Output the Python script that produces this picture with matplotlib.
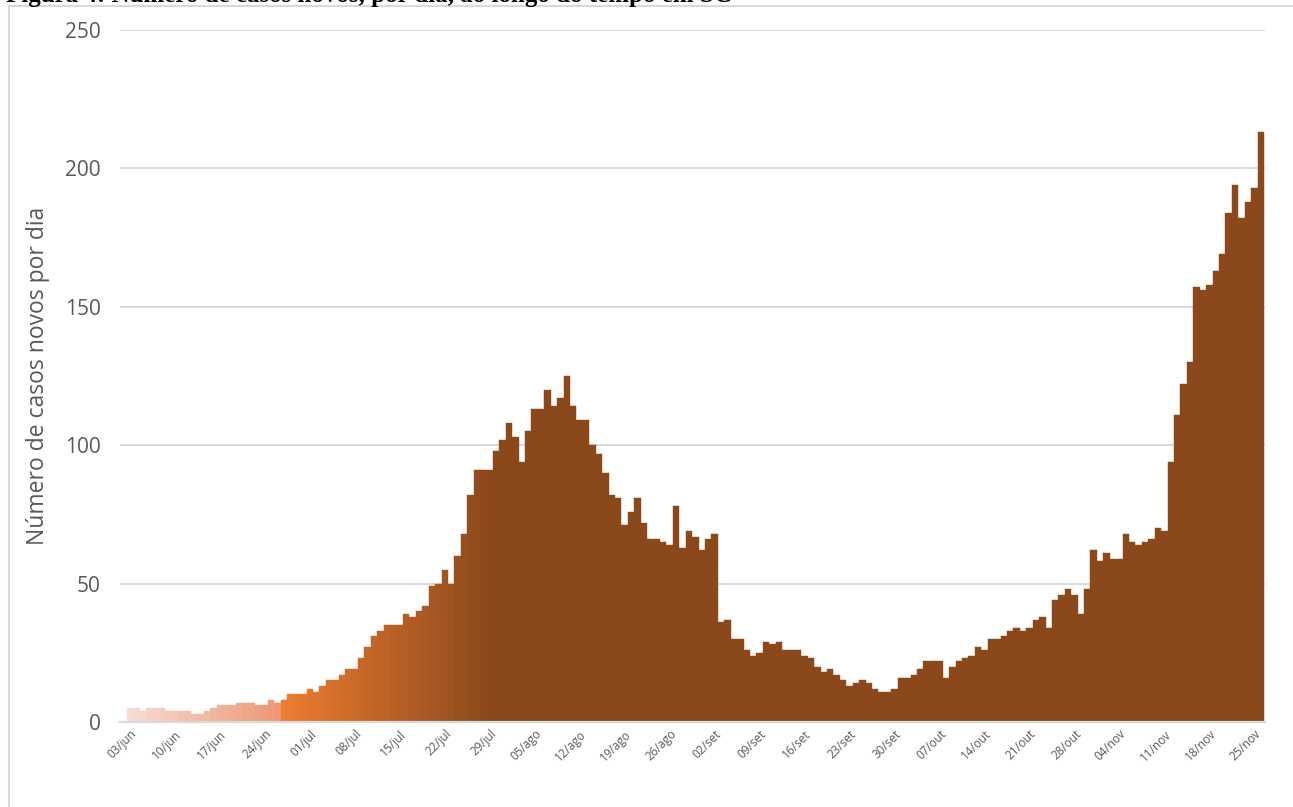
import matplotlib
matplotlib.use("Agg")
import matplotlib.pyplot as plt
import numpy as np

# ---- data ----
cases = [5, 5, 4, 5, 5, 5, 4, 4, 4, 4, 3, 3, 4, 5, 6, 6, 6, 7, 7, 7,
         6, 6, 8, 7, 8, 10, 10, 10, 12, 11, 13, 15, 15, 17, 19, 19, 23, 27, 31, 33,
         35, 35, 35, 39, 38, 40, 42, 49, 50, 55, 50, 60, 68, 82, 91, 91, 91, 98, 102, 108,
         103, 94, 105, 113, 113, 120, 114, 117, 125, 114, 109, 109, 100, 97, 90, 82, 81, 71, 76, 81,
         72, 66, 66, 65, 64, 78, 63, 69, 67, 62, 66, 68, 36, 37, 30, 30, 26, 24, 25, 29,
         28, 29, 26, 26, 26, 24, 23, 20, 18, 19, 17, 15, 13, 14, 15, 14, 12, 11, 11, 12,
         16, 16, 17, 19, 22, 22, 22, 16, 20, 22, 23, 24, 27, 26, 30, 30, 31, 33, 34, 33,
         34, 37, 38, 34, 44, 46, 48, 46, 39, 48, 62, 58, 61, 59, 59, 68, 65, 64, 65, 66,
         70, 69, 94, 111, 122, 130, 157, 156, 158, 163, 169, 184, 194, 182, 188, 193, 213]

tick_labels = ['03/jun', '10/jun', '17/jun', '24/jun', '01/jul', '08/jul', '15/jul',
               '22/jul', '29/jul', '05/ago', '12/ago', '19/ago', '26/ago', '02/set',
               '09/set', '16/set', '23/set', '30/set', '07/out', '14/out', '21/out',
               '28/out', '04/nov', '11/nov', '18/nov', '25/nov']

y_ticks = [0, 50, 100, 150, 200, 250]
y_label = 'Número de casos novos por dia'
title = 'Figura 4: Número de casos novos, por dia, ao longo do tempo em SC'

# ---- colours (gradient style) ----
def lerp(c1, c2, t):
    return tuple((a + (b - a) * t) / 255 for a, b in zip(c1, c2))

n = len(cases)
pale0 = (248, 220, 212)
pale1 = (236, 152, 118)
orange = (237, 125, 49)
brown = (139, 72, 27)
colors = []
for i in range(n):
    if i <= 23:
        colors.append(lerp(pale0, pale1, i / 23))
    elif i <= 56:
        colors.append(lerp(orange, brown, (i - 24) / 32))
    else:
        colors.append(lerp(brown, brown, 0))

W, H = 1293, 807
fig = plt.figure(figsize=(W / 100, H / 100), dpi=100)
ax = fig.add_axes([120 / W, (H - 722) / H, 1145 / W, 692 / H])

x = np.arange(n)
ax.bar(x, cases, width=1.0, color=colors, edgecolor=colors, linewidth=0.3, zorder=2)

ax.set_ylim(0, 250)
ax.set_xlim(-1.54, n - 0.5 + 0.16)
ax.set_yticks(y_ticks)
ax.set_yticklabels([str(v) for v in y_ticks], fontsize=15, color='#595959', family='Open Sans')
ax.tick_params(axis='y', length=0, pad=14)

ax.set_xticks(np.arange(len(tick_labels)) * 7)
ax.set_xticklabels(tick_labels, rotation=45, ha='right', va='top', rotation_mode='anchor',
                   fontsize=8.5, color='#595959', family='Open Sans')
ax.tick_params(axis='x', length=0, pad=4)

ax.grid(axis='y', color='#D9D9D9', linewidth=1.4, zorder=0)
ax.set_axisbelow(True)
for s in ['top', 'right', 'left']:
    ax.spines[s].set_visible(False)
ax.spines['bottom'].set_color('#D9D9D9')
ax.spines['bottom'].set_linewidth(1.6)

ax.set_ylabel(y_label, fontsize=16.5, color='#595959', family='Open Sans')
ax.yaxis.set_label_coords(-0.061, 0.5)

# outer frame of the original chart
frame = plt.Rectangle((9 / W, -0.1), 1.2, 1 - 6 / H + 0.1, transform=fig.transFigure,
                      fill=False, edgecolor='#D9D9D9', linewidth=1.5)
fig.patches.append(frame)

# caption at the very top (clipped by the page edge in the original)
fig.text(6 / W, 1 - 2 / H, title, fontsize=18, fontweight='bold',
         family='Liberation Serif', va='baseline', ha='left', color='black')

fig.savefig('out.png', dpi=100)
